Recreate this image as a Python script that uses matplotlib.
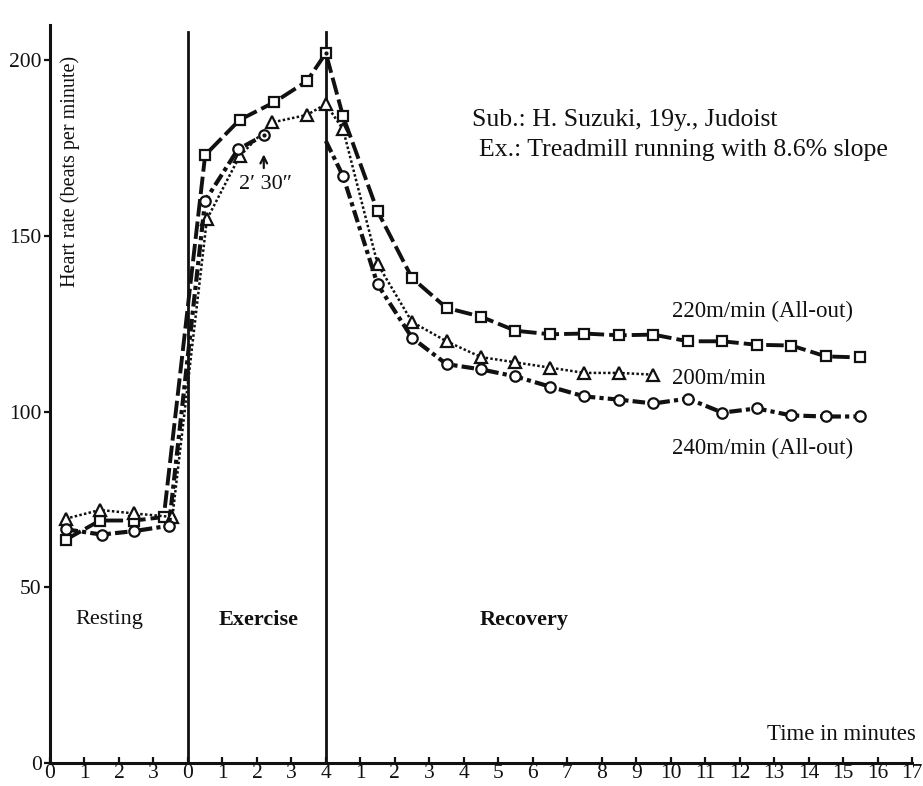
import matplotlib
matplotlib.use('Agg')
import matplotlib.pyplot as plt

# ---------------- data ----------------
# x positions on a continuous scale: 0-4 resting, 4-8 exercise (0-4 min), 8-25 recovery (0-17 min)
x_tick_pos = list(range(0, 26))
x_tick_labels = ['0', '1', '2', '3', '0', '1', '2', '3', '4'] + [str(i) for i in range(1, 18)]
y_ticks = [0, 50, 100, 150, 200]
phase_bounds = [4, 8]
phase_names = ['Resting', 'Exercise', 'Recovery']

# 220 m/min (All-out) - squares
sq_x = [0.45, 1.45, 2.45, 3.3, 4.5, 5.5, 6.5, 7.45, 8.0,
        8.5, 9.5, 10.5, 11.5, 12.5, 13.5, 14.5, 15.5, 16.5, 17.5, 18.5, 19.5, 20.5, 21.5, 22.5, 23.5]
sq_y = [63.5, 69, 69, 70, 173, 183, 188, 194, 202,
        184, 157, 138, 129.5, 127, 123, 122, 122.2, 121.7, 121.9, 120, 120, 119, 118.8, 115.7, 115.4]

# 200 m/min - triangles
tri_x = [0.45, 1.45, 2.45, 3.55, 4.55, 5.5, 6.45, 7.45, 8.0,
         8.5, 9.5, 10.5, 11.5, 12.5, 13.5, 14.5, 15.5, 16.5, 17.5]
tri_y = [69.5, 72, 71, 70, 154.7, 172.7, 182.3, 184.4, 187.5,
         180.3, 142, 125.5, 120, 115.5, 114, 112.5, 111, 111, 110.5]

# 240 m/min (All-out) - circles (exhausted at 2'30")
circ_ex_x = [0.45, 1.5, 2.45, 3.45, 4.5, 5.45, 6.2]
circ_ex_y = [66.5, 65, 66, 67.5, 160, 174.6, 178.6]
circ_rec_x = [8.0, 8.5, 9.5, 10.5, 11.5, 12.5, 13.5, 14.5, 15.5, 16.5, 17.5, 18.5, 19.5, 20.5, 21.5, 22.5, 23.5]
circ_rec_y = [177, 167, 136.2, 121, 113.5, 112, 110, 107.1, 104.3, 103.4, 102.3, 103.7, 99.7, 100.9, 98.9, 98.6, 98.6]

series_labels = ['220m/min (All-out)', '200m/min', '240m/min (All-out)']

# ---------------- figure ----------------
SERIF = ['Liberation Serif', 'DejaVu Serif']
W, H = 923, 786
fig = plt.figure(figsize=(W / 100, H / 100), dpi=100)
ax = fig.add_axes([50 / W, 23 / H, 862 / W, 738 / H])
ax.set_xlim(0, 25)
ax.set_ylim(0, 210)

ink = '#111111'
mk = dict(markerfacecolor='white', markeredgecolor=ink, markeredgewidth=1.6, color=ink)

# phase boundaries
for b in phase_bounds:
    ax.plot([b, b], [0, 208], color=ink, lw=2.0, zorder=2)

# squares - heavy long dashes
l1, = ax.plot(sq_x, sq_y, marker='s', markersize=7.5, lw=2.8, zorder=4, **mk)
l1.set_dashes([4.5, 1.3])
ax.plot(sq_x[8], sq_y[8], marker='.', markersize=4, color=ink, zorder=6)

# triangles - dotted
l2, = ax.plot(tri_x, tri_y, marker='^', markersize=8, lw=1.8, zorder=4, **mk)
l2.set_dashes([1.0, 0.9])

# circles - heavy dash-dot
l3, = ax.plot(circ_ex_x, circ_ex_y, marker='o', markersize=7.5, lw=3.0, zorder=4, **mk)
l3.set_dashes([3, 1, 1, 1])
l4, = ax.plot(circ_rec_x, circ_rec_y, marker='o', markersize=7.5, lw=3.0, zorder=4,
              markevery=list(range(1, len(circ_rec_x))), **mk)
l4.set_dashes([3, 1, 1, 1])
ax.plot(circ_ex_x[-1], circ_ex_y[-1], marker='.', markersize=4, color=ink, zorder=6)

# 2'30" annotation
ax.annotate('', xy=(circ_ex_x[-1], 174), xytext=(circ_ex_x[-1], 168.5),
            arrowprops=dict(arrowstyle='->', color=ink, lw=1.6, mutation_scale=12))
ax.text(6.25, 164.5, '2\u2032 30\u2033', ha='center', va='center', fontsize=16,
        family=SERIF, color=ink)

# series labels
ax.text(18.05, 128.5, series_labels[0], ha='left', va='center', fontsize=16.5, family=SERIF, color=ink)
ax.text(18.05, 109.5, series_labels[1], ha='left', va='center', fontsize=16.5, family=SERIF, color=ink)
ax.text(18.05, 89.5, series_labels[2], ha='left', va='center', fontsize=16.5, family=SERIF, color=ink)

# subject info
ax.text(12.25, 183, 'Sub.: H. Suzuki, 19y., Judoist', ha='left', va='center', fontsize=18.5,
        family=SERIF, color=ink)
ax.text(12.45, 174.5, 'Ex.: Treadmill running with 8.6% slope', ha='left', va='center', fontsize=18.5,
        family=SERIF, color=ink)

# phase names
ax.text(0.75, 40.7, phase_names[0], ha='left', va='center', fontsize=16, family=SERIF, color=ink)
ax.text(4.9, 40.7, phase_names[1], ha='left', va='center', fontsize=16, family=SERIF,
        fontweight='bold', color=ink)
ax.text(12.45, 40.7, phase_names[2], ha='left', va='center', fontsize=16, family=SERIF,
        fontweight='bold', color=ink)

# axis titles
ax.text(25.1, 8.0, 'Time in minutes', ha='right', va='center', fontsize=16.5, family=SERIF, color=ink)
ax.text(0.58, 168.2, 'Heart rate (beats per minute)', rotation=90, ha='center', va='center',
        fontsize=14.5, family=SERIF, color=ink)

# axes styling
for s in ['top', 'right']:
    ax.spines[s].set_visible(False)
for s in ['left', 'bottom']:
    ax.spines[s].set_linewidth(2.2)
    ax.spines[s].set_color(ink)

ax.set_xticks(x_tick_pos)
ax.set_xticklabels(x_tick_labels, family=SERIF)
ax.set_yticks(y_ticks)
ax.set_yticklabels([str(v) for v in y_ticks], family=SERIF)
ax.tick_params(axis='x', direction='in', length=4, width=1.6, labelsize=15.5, pad=1, colors=ink)
ax.tick_params(axis='y', direction='out', length=4, width=1.6, labelsize=15.5, pad=2, colors=ink)

fig.savefig('out.png', dpi=100)
